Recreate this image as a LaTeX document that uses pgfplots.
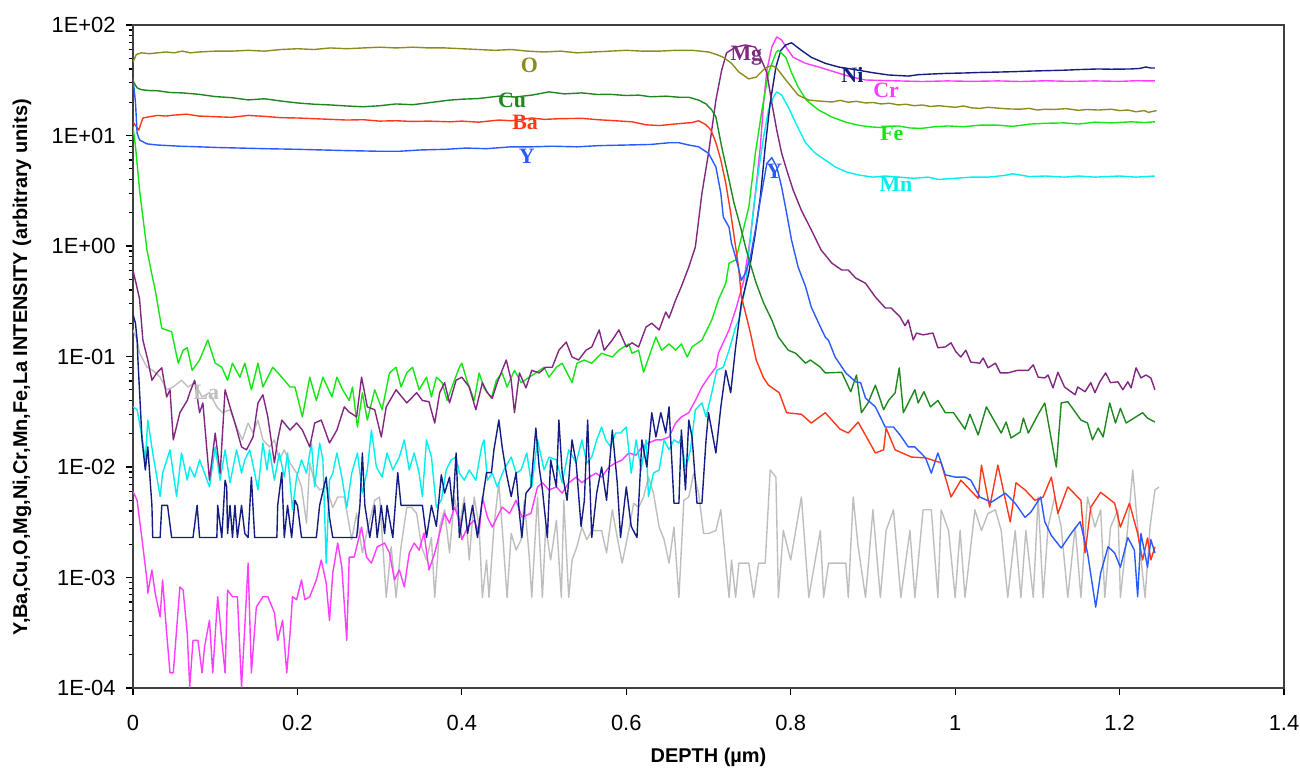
\documentclass[border=0pt]{standalone}
\usepackage{fontspec}
\setmainfont{Liberation Sans}
\newfontfamily\lserif{Liberation Serif}
\usepackage{pgfplots}
\pgfplotsset{compat=1.18}
\definecolor{cO}{RGB}{140,140,30}
\definecolor{cCu}{RGB}{30,135,30}
\definecolor{cBa}{RGB}{255,55,25}
\definecolor{cY}{RGB}{40,90,255}
\definecolor{cMg}{RGB}{128,40,128}
\definecolor{cFe}{RGB}{20,230,20}
\definecolor{cCr}{RGB}{255,60,255}
\definecolor{cNi}{RGB}{20,30,130}
\definecolor{cMn}{RGB}{0,238,238}
\definecolor{cLa}{RGB}{190,190,190}
\begin{document}
\begin{tikzpicture}
\begin{axis}[name=ax,
  scale only axis, width=575.5bp, height=331.5bp,
  ymode=log, xmin=0, xmax=1.4, ymin=1e-4, ymax=100,
  xtick={0,0.2,0.4,0.6,0.8,1,1.2,1.4},
  ytick={1e-4,1e-3,1e-2,1e-1,1,10,100},
  yticklabels={1E-04,1E-03,1E-02,1E-01,1E+00,1E+01,1E+02},
  /pgf/number format/assume math mode=true,
  tick align=outside, tick pos=left,
  major tick length=3.5bp, minor tick length=2.2bp,
  every tick/.style={black, line width=0.6bp},
  axis line style={line width=0.8bp, black!75},
  ticklabel style={font=\fontsize{11}{12}\selectfont},
  yticklabel style={inner sep=0pt, anchor=east, xshift=-5bp},
  xticklabel style={inner sep=0pt, anchor=north, yshift=-10bp},
  xlabel={\bfseries DEPTH (µm)},
  ylabel={\bfseries Y,Ba,Cu,O,Mg,Ni,Cr,Mn,Fe,La INTENSITY (arbitrary units)},
  label style={font=\fontsize{10.5}{12}\selectfont},
  every axis x label/.style={at={([yshift=-34.5bp]axis description cs:0.5,0)}, anchor=center},
  every axis y label/.style={at={([xshift=-55.5bp]axis description cs:0,0.484)}, anchor=center, rotate=90},
  every axis plot/.append style={line width=0.7bp, line join=round, no markers},
  clip=true,
]
% La
\addplot[cLa] coordinates {(0,0.174)(0.005,0.141)(0.008,0.107)(0.017,0.080)(0.024,0.075)(0.033,0.065)(0.041,0.050)(0.049,0.053)(0.059,0.061)(0.067,0.053)(0.075,0.058)(0.084,0.043)(0.093,0.047)(0.102,0.035)(0.109,0.031)(0.118,0.033)(0.126,0.023)(0.133,0.0176)(0.140,0.025)(0.146,0.0203)(0.152,0.0266)(0.158,0.0176)(0.166,0.0152)(0.172,0.0176)(0.178,0.0116)(0.184,0.0143)(0.191,0.0109)(0.199,0.0088)(0.205,0.0066)(0.211,0.0031)(0.215,0.0109)(0.221,0.0072)(0.227,0.0062)(0.235,0.0066)(0.243,0.0043)(0.249,0.00535)(0.257,0.00535)(0.266,0.0022)(0.272,0.0038)(0.279,0.00167)(0.285,0.00266)(0.294,0.0050)(0.300,0.00535)(0.308,0.00066)(0.314,0.0019)(0.320,0.00066)(0.326,0.0019)(0.333,0.0043)(0.339,0.0043)(0.345,0.0038)(0.351,0.0019)(0.357,0.00144)(0.363,0.0023)(0.367,0.00066)(0.373,0.00286)(0.379,0.0041)(0.385,0.00167)(0.391,0.00535)(0.397,0.00286)(0.403,0.00535)(0.409,0.00144)(0.415,0.00535)(0.421,0.00286)(0.425,0.00066)(0.430,0.00144)(0.433,0.00066)(0.439,0.00286)(0.445,0.0072)(0.449,0.00286)(0.455,0.00066)(0.460,0.0025)(0.466,0.00177)(0.472,0.0022)(0.476,0.0050)(0.482,0.00153)(0.485,0.00066)(0.492,0.00535)(0.498,0.00066)(0.502,0.00286)(0.508,0.00144)(0.515,0.0033)(0.521,0.00066)(0.524,0.0050)(0.530,0.00066)(0.534,0.00144)(0.540,0.0019)(0.546,0.00286)(0.552,0.0022)(0.558,0.00266)(0.564,0.00266)(0.570,0.00266)(0.576,0.00167)(0.583,0.0041)(0.589,0.0023)(0.595,0.00135)(0.603,0.00266)(0.609,0.0047)(0.615,0.0043)(0.621,0.00535)(0.627,0.0081)(0.633,0.0058)(0.640,0.00286)(0.646,0.0022)(0.652,0.00135)(0.658,0.00286)(0.664,0.00066)(0.670,0.0050)(0.676,0.00535)(0.682,0.0088)(0.688,0.0058)(0.694,0.0025)(0.700,0.0025)(0.709,0.00266)(0.715,0.0041)(0.721,0.00135)(0.725,0.00066)(0.728,0.00144)(0.733,0.00066)(0.737,0.00135)(0.749,0.00135)(0.755,0.00066)(0.761,0.00135)(0.769,0.00135)(0.775,0.0094)(0.782,0.0081)(0.785,0.00066)(0.791,0.00266)(0.800,0.00144)(0.813,0.00535)(0.822,0.00066)(0.836,0.00266)(0.840,0.00066)(0.846,0.00135)(0.867,0.00135)(0.870,0.00066)(0.876,0.00535)(0.882,0.0019)(0.891,0.00066)(0.900,0.0041)(0.909,0.00066)(0.916,0.00266)(0.925,0.0041)(0.934,0.00066)(0.945,0.00266)(0.951,0.00066)(0.961,0.0041)(0.971,0.0041)(0.979,0.00066)(0.983,0.0041)(0.992,0.00266)(1.000,0.00066)(1.006,0.00266)(1.012,0.00066)(1.024,0.0041)(1.032,0.00266)(1.040,0.0038)(1.049,0.0041)(1.056,0.00266)(1.064,0.00066)(1.073,0.00266)(1.080,0.00066)(1.086,0.00266)(1.095,0.00066)(1.101,0.00535)(1.107,0.00066)(1.113,0.00286)(1.121,0.00535)(1.129,0.00286)(1.137,0.00066)(1.146,0.00286)(1.153,0.00066)(1.161,0.00535)(1.170,0.00286)(1.177,0.0041)(1.182,0.00066)(1.189,0.00286)(1.198,0.0041)(1.201,0.00066)(1.210,0.00286)(1.216,0.0094)(1.222,0.00286)(1.231,0.00066)(1.237,0.00286)(1.243,0.0062)(1.248,0.0066)};
% Cr
\addplot[cCr] coordinates {(0,0.006)(0.005,0.0050)(0.011,0.0022)(0.017,0.00095)(0.018,0.00072)(0.023,0.00117)(0.027,0.00072)(0.033,0.00044)(0.036,0.00095)(0.041,0.00031)(0.045,0.000137)(0.049,0.000137)(0.053,0.000335)(0.057,0.00082)(0.061,0.00077)(0.066,0.00031)(0.069,0.000102)(0.073,0.00027)(0.079,0.00027)(0.084,0.000137)(0.087,0.000235)(0.093,0.00041)(0.097,0.000137)(0.103,0.00067)(0.108,0.00027)(0.112,0.000137)(0.115,0.00077)(0.121,0.00067)(0.127,0.00067)(0.132,0.000102)(0.136,0.00036)(0.140,0.00135)(0.144,0.000137)(0.150,0.00054)(0.158,0.00067)(0.164,0.00067)(0.172,0.00048)(0.176,0.00027)(0.182,0.00041)(0.187,0.000137)(0.191,0.00031)(0.194,0.00067)(0.199,0.00063)(0.205,0.00095)(0.209,0.00063)(0.215,0.00067)(0.223,0.00095)(0.229,0.00144)(0.235,0.00089)(0.239,0.00041)(0.243,0.0011)(0.249,0.00205)(0.254,0.00124)(0.260,0.00027)(0.263,0.00153)(0.269,0.00153)(0.278,0.00286)(0.284,0.00153)(0.290,0.00135)(0.297,0.00189)(0.306,0.00205)(0.312,0.00167)(0.318,0.00095)(0.324,0.00117)(0.330,0.00082)(0.336,0.00167)(0.342,0.00205)(0.348,0.00177)(0.354,0.00253)(0.360,0.00117)(0.367,0.00167)(0.373,0.00253)(0.379,0.0038)(0.385,0.0031)(0.391,0.00434)(0.397,0.0033)(0.400,0.0022)(0.407,0.00286)(0.415,0.0033)(0.421,0.00253)(0.425,0.00535)(0.431,0.00353)(0.437,0.00286)(0.443,0.00353)(0.449,0.00434)(0.458,0.0038)(0.466,0.0050)(0.473,0.00353)(0.484,0.0038)(0.492,0.0066)(0.498,0.0072)(0.506,0.0062)(0.515,0.0066)(0.522,0.0058)(0.530,0.0072)(0.539,0.0081)(0.546,0.0072)(0.555,0.0081)(0.563,0.0088)(0.570,0.0081)(0.579,0.010)(0.587,0.0109)(0.595,0.0116)(0.603,0.0134)(0.612,0.0128)(0.619,0.0152)(0.627,0.0165)(0.636,0.0176)(0.643,0.0176)(0.652,0.0187)(0.660,0.025)(0.667,0.0284)(0.676,0.031)(0.684,0.040)(0.692,0.053)(0.700,0.065)(0.709,0.080)(0.712,0.107)(0.725,0.174)(0.734,0.28)(0.743,0.49)(0.751,1.2)(0.757,3.0)(0.763,7.9)(0.767,19.7)(0.771,39)(0.777,63)(0.783,78)(0.789,73)(0.795,62)(0.803,51)(0.818,45)(0.834,41.7)(0.854,37.5)(0.874,33.8)(0.891,31.8)(0.91,31.5)(0.931,31.2)(0.96,30.8)(0.99,31.2)(1.02,30.9)(1.052,31.2)(1.08,30.8)(1.11,31.3)(1.14,30.9)(1.17,31.2)(1.2,30.9)(1.22,31.3)(1.243,31.2)};
% Mn
\addplot[cMn] coordinates {(0,0.035)(0.005,0.033)(0.011,0.0187)(0.015,0.0116)(0.018,0.0266)(0.024,0.0134)(0.033,0.0054)(0.036,0.0088)(0.045,0.0143)(0.053,0.0054)(0.059,0.0134)(0.066,0.0076)(0.069,0.0100)(0.075,0.0081)(0.081,0.0116)(0.087,0.0088)(0.093,0.0066)(0.100,0.0152)(0.106,0.0076)(0.112,0.0143)(0.118,0.0072)(0.126,0.0143)(0.132,0.0088)(0.136,0.0116)(0.142,0.0143)(0.148,0.0088)(0.152,0.0062)(0.158,0.0165)(0.163,0.0094)(0.166,0.0143)(0.172,0.0076)(0.178,0.0134)(0.184,0.0081)(0.188,0.0134)(0.194,0.0041)(0.199,0.0081)(0.205,0.0116)(0.211,0.0088)(0.217,0.0165)(0.221,0.0066)(0.227,0.0165)(0.231,0.0116)(0.235,0.00135)(0.239,0.0076)(0.243,0.0088)(0.248,0.0134)(0.254,0.0081)(0.260,0.0043)(0.266,0.0088)(0.273,0.0134)(0.279,0.0058)(0.285,0.0094)(0.290,0.0216)(0.296,0.0100)(0.303,0.0081)(0.309,0.0134)(0.316,0.0094)(0.324,0.0123)(0.330,0.0176)(0.336,0.0094)(0.342,0.0134)(0.348,0.0088)(0.352,0.0054)(0.357,0.0176)(0.363,0.0123)(0.369,0.0043)(0.375,0.005)(0.381,0.0094)(0.387,0.0116)(0.393,0.0123)(0.397,0.0088)(0.403,0.0076)(0.409,0.0094)(0.417,0.0076)(0.424,0.0152)(0.427,0.0176)(0.431,0.0076)(0.437,0.0088)(0.443,0.0066)(0.451,0.0094)(0.460,0.0123)(0.466,0.0088)(0.472,0.0094)(0.479,0.0134)(0.485,0.0066)(0.492,0.0176)(0.500,0.0094)(0.506,0.0123)(0.515,0.0116)(0.522,0.0072)(0.530,0.0143)(0.539,0.0109)(0.546,0.0176)(0.552,0.0109)(0.558,0.0123)(0.564,0.0176)(0.570,0.023)(0.575,0.0176)(0.581,0.0152)(0.587,0.0203)(0.593,0.0203)(0.600,0.023)(0.606,0.0088)(0.612,0.0176)(0.618,0.0094)(0.624,0.0176)(0.627,0.0054)(0.633,0.0088)(0.640,0.0094)(0.646,0.0176)(0.652,0.0143)(0.658,0.0176)(0.664,0.0165)(0.667,0.0187)(0.672,0.0094)(0.678,0.0143)(0.684,0.033)(0.692,0.038)(0.697,0.0284)(0.704,0.047)(0.710,0.075)(0.718,0.080)(0.725,0.114)(0.733,0.185)(0.737,0.214)(0.745,0.43)(0.749,0.86)(0.755,2.25)(0.761,4.9)(0.767,9.7)(0.773,17)(0.779,22.3)(0.783,24.8)(0.789,23.2)(0.797,18.1)(0.806,13.0)(0.818,8.6)(0.830,6.9)(0.842,6.0)(0.854,5.2)(0.867,4.7)(0.882,4.4)(0.90,4.2)(0.915,4.3)(0.931,4.2)(0.95,4.1)(0.967,4.2)(0.98,4.0)(1.0,4.1)(1.02,4.2)(1.04,4.2)(1.06,4.35)(1.07,4.5)(1.09,4.25)(1.11,4.3)(1.133,4.2)(1.15,4.3)(1.17,4.2)(1.2,4.3)(1.22,4.2)(1.243,4.3)};
% Ni
\addplot[cNi] coordinates {(0,0.24)(0.003,0.2)(0.005,0.141)(0.006,0.093)(0.011,0.0176)(0.015,0.0094)(0.018,0.0152)(0.023,0.0045)(0.024,0.0023)(0.033,0.0023)(0.035,0.0045)(0.042,0.0045)(0.047,0.0023)(0.073,0.0023)(0.078,0.0045)(0.081,0.0023)(0.102,0.0023)(0.103,0.0045)(0.108,0.0023)(0.112,0.0076)(0.114,0.0066)(0.115,0.0025)(0.118,0.0045)(0.121,0.0023)(0.124,0.0045)(0.127,0.0023)(0.132,0.0045)(0.136,0.0025)(0.140,0.0023)(0.144,0.0081)(0.148,0.0023)(0.175,0.0023)(0.176,0.0045)(0.181,0.0089)(0.184,0.0023)(0.188,0.0045)(0.193,0.0023)(0.197,0.005)(0.200,0.0045)(0.205,0.0023)(0.223,0.0023)(0.227,0.0045)(0.235,0.0081)(0.239,0.0035)(0.243,0.0023)(0.272,0.0023)(0.276,0.0045)(0.279,0.0134)(0.282,0.0045)(0.288,0.0023)(0.294,0.0045)(0.297,0.0023)(0.302,0.0045)(0.306,0.0025)(0.309,0.0045)(0.316,0.0023)(0.322,0.0089)(0.326,0.0045)(0.334,0.0045)(0.352,0.0045)(0.357,0.0023)(0.363,0.0045)(0.369,0.0029)(0.375,0.0085)(0.379,0.0058)(0.385,0.0081)(0.389,0.0041)(0.393,0.0134)(0.397,0.0023)(0.403,0.0047)(0.407,0.0025)(0.413,0.0045)(0.419,0.0023)(0.424,0.0045)(0.430,0.0089)(0.436,0.0089)(0.439,0.0143)(0.445,0.0266)(0.449,0.0152)(0.454,0.0089)(0.460,0.0054)(0.466,0.0089)(0.470,0.0038)(0.473,0.0023)(0.478,0.0058)(0.484,0.0066)(0.490,0.0225)(0.494,0.0100)(0.498,0.0062)(0.504,0.0023)(0.508,0.0116)(0.515,0.0066)(0.518,0.0266)(0.522,0.0089)(0.528,0.005)(0.534,0.0176)(0.539,0.0109)(0.545,0.0029)(0.549,0.005)(0.553,0.0266)(0.558,0.0023)(0.564,0.0058)(0.570,0.0100)(0.576,0.005)(0.583,0.0216)(0.589,0.0072)(0.593,0.0023)(0.600,0.0066)(0.606,0.0029)(0.613,0.0023)(0.619,0.0176)(0.625,0.0100)(0.631,0.031)(0.636,0.0187)(0.642,0.031)(0.648,0.0203)(0.652,0.035)(0.658,0.0047)(0.664,0.0047)(0.667,0.0216)(0.672,0.0062)(0.676,0.0266)(0.680,0.0187)(0.686,0.0047)(0.692,0.0047)(0.697,0.0176)(0.700,0.031)(0.709,0.0134)(0.715,0.035)(0.721,0.075)(0.727,0.047)(0.733,0.122)(0.740,0.305)(0.749,0.57)(0.757,1.31)(0.763,2.77)(0.769,7.9)(0.775,19.7)(0.782,41.7)(0.788,59)(0.794,66)(0.801,69)(0.813,59)(0.825,51)(0.842,45)(0.858,41.7)(0.882,39)(0.90,37)(0.919,35.3)(0.943,34.5)(0.955,35.5)(0.971,36)(0.99,36.5)(1.012,36.8)(1.03,37.2)(1.052,37.5)(1.07,37.8)(1.092,38.3)(1.11,38.6)(1.133,39)(1.15,39.5)(1.174,40)(1.19,39.8)(1.214,40)(1.225,40.5)(1.232,41.7)(1.238,40.8)(1.243,40.8)};
% Fe
\addplot[cFe] coordinates {(0,12)(0.003,8)(0.008,3.2)(0.017,0.92)(0.023,0.55)(0.027,0.40)(0.035,0.18)(0.041,0.174)(0.047,0.167)(0.055,0.087)(0.061,0.114)(0.066,0.12)(0.072,0.075)(0.081,0.093)(0.091,0.141)(0.100,0.087)(0.108,0.080)(0.115,0.061)(0.121,0.087)(0.130,0.065)(0.136,0.087)(0.144,0.050)(0.152,0.087)(0.158,0.053)(0.170,0.080)(0.181,0.065)(0.191,0.053)(0.197,0.053)(0.206,0.0284)(0.215,0.065)(0.223,0.040)(0.231,0.065)(0.242,0.043)(0.248,0.065)(0.255,0.050)(0.263,0.040)(0.267,0.053)(0.273,0.023)(0.279,0.047)(0.285,0.0266)(0.294,0.050)(0.303,0.033)(0.312,0.071)(0.320,0.080)(0.326,0.053)(0.333,0.071)(0.340,0.080)(0.348,0.050)(0.357,0.065)(0.363,0.043)(0.369,0.065)(0.376,0.058)(0.382,0.040)(0.391,0.061)(0.397,0.080)(0.400,0.087)(0.406,0.061)(0.415,0.040)(0.421,0.071)(0.427,0.052)(0.436,0.042)(0.442,0.061)(0.449,0.071)(0.455,0.053)(0.464,0.075)(0.472,0.058)(0.482,0.065)(0.490,0.071)(0.500,0.080)(0.506,0.065)(0.515,0.080)(0.522,0.087)(0.528,0.071)(0.534,0.058)(0.540,0.087)(0.549,0.093)(0.558,0.087)(0.570,0.107)(0.583,0.099)(0.591,0.114)(0.603,0.13)(0.607,0.107)(0.615,0.114)(0.621,0.072)(0.636,0.15)(0.643,0.114)(0.652,0.13)(0.660,0.114)(0.667,0.13)(0.674,0.099)(0.680,0.122)(0.692,0.141)(0.704,0.214)(0.712,0.325)(0.721,0.46)(0.725,0.70)(0.733,0.747)(0.740,1.2)(0.749,2.25)(0.757,6.9)(0.765,17)(0.773,37)(0.782,56)(0.785,59)(0.794,51)(0.801,37)(0.809,27.5)(0.819,20.9)(0.834,17)(0.850,14.7)(0.867,13.2)(0.882,12.4)(0.895,12.0)(0.910,11.8)(0.92,12.1)(0.931,12.2)(0.945,11.7)(0.959,11.6)(0.975,12.0)(0.992,12.2)(1.01,12.0)(1.03,12.4)(1.052,12.4)(1.07,12.1)(1.092,12.7)(1.11,12.9)(1.133,13.0)(1.15,12.7)(1.17,13.2)(1.19,13.0)(1.214,13.3)(1.23,13.1)(1.243,13.3)};
% Mg
\addplot[cMg] coordinates {(0,0.6)(0.004,0.45)(0.008,0.33)(0.012,0.141)(0.018,0.093)(0.023,0.061)(0.029,0.071)(0.035,0.079)(0.041,0.043)(0.045,0.050)(0.049,0.0176)(0.057,0.031)(0.066,0.040)(0.069,0.047)(0.075,0.061)(0.081,0.031)(0.085,0.038)(0.093,0.0076)(0.100,0.0203)(0.106,0.0088)(0.112,0.050)(0.118,0.035)(0.124,0.025)(0.132,0.0152)(0.138,0.0143)(0.146,0.0187)(0.152,0.038)(0.158,0.045)(0.164,0.0284)(0.172,0.0109)(0.176,0.0176)(0.181,0.0266)(0.191,0.0216)(0.199,0.025)(0.206,0.0216)(0.215,0.0152)(0.221,0.025)(0.229,0.0266)(0.239,0.0165)(0.248,0.0216)(0.257,0.035)(0.263,0.0314)(0.272,0.0284)(0.278,0.065)(0.285,0.035)(0.294,0.033)(0.302,0.0187)(0.308,0.035)(0.320,0.050)(0.333,0.038)(0.345,0.047)(0.352,0.040)(0.360,0.039)(0.367,0.025)(0.373,0.047)(0.379,0.058)(0.385,0.038)(0.393,0.061)(0.400,0.065)(0.409,0.053)(0.417,0.033)(0.425,0.058)(0.431,0.047)(0.437,0.042)(0.443,0.058)(0.454,0.093)(0.460,0.061)(0.464,0.031)(0.470,0.071)(0.478,0.052)(0.485,0.075)(0.494,0.071)(0.502,0.080)(0.510,0.080)(0.518,0.114)(0.527,0.135)(0.534,0.099)(0.542,0.093)(0.551,0.114)(0.558,0.122)(0.567,0.174)(0.573,0.114)(0.583,0.141)(0.591,0.174)(0.600,0.122)(0.607,0.133)(0.615,0.122)(0.624,0.185)(0.631,0.20)(0.640,0.174)(0.648,0.253)(0.652,0.223)(0.660,0.325)(0.667,0.43)(0.676,0.645)(0.684,0.98)(0.692,3.0)(0.700,6.9)(0.709,20.9)(0.716,39)(0.722,56)(0.733,63)(0.745,66)(0.757,63)(0.763,51)(0.771,37)(0.777,19.7)(0.783,11.2)(0.789,6.9)(0.795,4.9)(0.803,3.2)(0.813,2.1)(0.825,1.40)(0.837,0.92)(0.850,0.70)(0.862,0.606)(0.870,0.606)(0.879,0.513)(0.891,0.46)(0.903,0.345)(0.915,0.275)(0.922,0.275)(0.933,0.228)(0.939,0.19)(0.943,0.214)(0.949,0.141)(0.953,0.163)(0.961,0.157)(0.973,0.163)(0.979,0.12)(0.988,0.122)(0.995,0.133)(1.001,0.11)(1.007,0.099)(1.013,0.114)(1.019,0.089)(1.030,0.087)(1.034,0.097)(1.040,0.079)(1.049,0.087)(1.055,0.071)(1.064,0.071)(1.076,0.075)(1.089,0.075)(1.095,0.084)(1.101,0.065)(1.109,0.064)(1.113,0.068)(1.119,0.052)(1.125,0.072)(1.133,0.053)(1.146,0.045)(1.149,0.053)(1.158,0.048)(1.165,0.058)(1.170,0.047)(1.176,0.059)(1.183,0.071)(1.189,0.058)(1.198,0.059)(1.204,0.050)(1.210,0.059)(1.214,0.052)(1.220,0.079)(1.226,0.064)(1.232,0.068)(1.238,0.064)(1.243,0.050)};
% Cu
\addplot[cCu] coordinates {(0,31)(0.005,27)(0.01,26)(0.02,25.5)(0.03,25.4)(0.045,24.5)(0.06,24.3)(0.08,23.6)(0.1,22.5)(0.12,22.0)(0.14,21.0)(0.16,21.5)(0.18,20.5)(0.2,19.7)(0.22,19.2)(0.24,18.9)(0.26,18.5)(0.28,18.2)(0.30,18.6)(0.32,19.3)(0.34,19.0)(0.36,19.8)(0.385,20.9)(0.40,21.3)(0.42,21.6)(0.445,22.7)(0.465,22.3)(0.485,23.2)(0.506,24.8)(0.525,23.8)(0.546,24.3)(0.565,23.5)(0.58,23.6)(0.6,23.0)(0.615,23.2)(0.63,22.4)(0.648,22.7)(0.664,22.2)(0.676,22.2)(0.688,20.9)(0.697,19.3)(0.704,17.0)(0.709,14.7)(0.716,7.9)(0.725,3.95)(0.731,2.45)(0.739,1.48)(0.746,0.92)(0.752,0.645)(0.758,0.46)(0.767,0.305)(0.777,0.214)(0.785,0.15)(0.797,0.114)(0.806,0.107)(0.818,0.087)(0.824,0.093)(0.836,0.080)(0.842,0.071)(0.862,0.072)(0.873,0.048)(0.880,0.068)(0.886,0.031)(0.894,0.038)(0.903,0.055)(0.913,0.033)(0.919,0.040)(0.927,0.047)(0.932,0.079)(0.937,0.031)(0.951,0.050)(0.955,0.038)(0.962,0.048)(0.970,0.035)(0.979,0.040)(0.988,0.031)(0.998,0.031)(1.012,0.022)(1.018,0.030)(1.028,0.0195)(1.038,0.035)(1.056,0.0203)(1.062,0.0255)(1.068,0.0183)(1.079,0.0207)(1.083,0.0277)(1.089,0.0203)(1.101,0.030)(1.109,0.038)(1.123,0.0100)(1.129,0.038)(1.137,0.039)(1.153,0.0266)(1.161,0.025)(1.167,0.0176)(1.174,0.0225)(1.180,0.0187)(1.188,0.038)(1.195,0.025)(1.201,0.034)(1.208,0.025)(1.228,0.031)(1.234,0.0277)(1.243,0.0255)};
% Ba
\addplot[cBa] coordinates {(0,13.3)(0.004,12.0)(0.007,11.2)(0.012,14.4)(0.02,14.8)(0.03,15.2)(0.04,15.0)(0.05,15.3)(0.065,15.6)(0.08,15.0)(0.1,14.8)(0.12,14.6)(0.14,15.2)(0.16,14.9)(0.18,14.5)(0.2,14.4)(0.22,14.2)(0.24,14.0)(0.26,13.8)(0.28,13.9)(0.3,13.5)(0.32,13.6)(0.34,13.4)(0.36,13.5)(0.385,13.3)(0.40,13.5)(0.42,13.2)(0.445,13.8)(0.46,13.6)(0.485,14.4)(0.5,14.0)(0.52,14.2)(0.546,14.3)(0.565,13.9)(0.58,13.7)(0.607,13.3)(0.624,12.5)(0.64,12.3)(0.664,12.8)(0.68,13.1)(0.688,13.6)(0.697,12.5)(0.703,11.2)(0.709,8.6)(0.715,6.0)(0.721,3.7)(0.727,1.99)(0.733,0.98)(0.737,0.606)(0.740,0.345)(0.745,0.248)(0.751,0.163)(0.758,0.093)(0.767,0.064)(0.773,0.055)(0.786,0.047)(0.795,0.031)(0.813,0.030)(0.825,0.025)(0.842,0.031)(0.860,0.022)(0.870,0.0203)(0.882,0.0255)(0.903,0.0134)(0.913,0.0143)(0.916,0.0225)(0.927,0.0143)(0.947,0.0123)(0.964,0.0121)(0.983,0.0109)(0.995,0.00535)(1.007,0.0076)(1.028,0.0052)(1.032,0.0104)(1.042,0.00434)(1.052,0.0104)(1.067,0.00318)(1.074,0.0072)(1.085,0.0062)(1.097,0.0050)(1.107,0.00535)(1.117,0.0081)(1.125,0.0038)(1.137,0.0066)(1.153,0.0050)(1.158,0.00167)(1.165,0.00434)(1.177,0.0059)(1.194,0.0047)(1.201,0.00286)(1.212,0.0047)(1.222,0.0025)(1.228,0.00144)(1.234,0.00228)(1.238,0.00144)(1.243,0.00189)};
% Y
\addplot[cY] coordinates {(0,33)(0.003,20)(0.005,10.5)(0.008,9.1)(0.017,8.4)(0.03,8.2)(0.057,8.0)(0.08,7.9)(0.1,7.8)(0.13,7.7)(0.16,7.6)(0.2,7.5)(0.23,7.4)(0.26,7.3)(0.3,7.2)(0.324,7.2)(0.35,7.4)(0.38,7.5)(0.405,7.7)(0.43,7.6)(0.46,7.9)(0.485,7.9)(0.51,8.0)(0.54,7.9)(0.567,8.1)(0.6,8.2)(0.63,8.3)(0.652,8.6)(0.664,8.6)(0.676,8.2)(0.688,7.9)(0.700,6.9)(0.709,5.2)(0.715,3.0)(0.718,1.83)(0.725,1.48)(0.728,1.06)(0.734,0.747)(0.740,0.49)(0.745,0.57)(0.751,0.795)(0.757,1.40)(0.763,2.6)(0.771,5.6)(0.777,6.3)(0.783,5.2)(0.789,3.4)(0.795,1.99)(0.801,1.13)(0.809,0.645)(0.818,0.43)(0.825,0.28)(0.834,0.20)(0.842,0.15)(0.846,0.14)(0.854,0.099)(0.867,0.071)(0.879,0.059)(0.885,0.058)(0.891,0.042)(0.903,0.035)(0.915,0.023)(0.925,0.023)(0.933,0.0195)(0.943,0.0152)(0.951,0.0152)(0.964,0.0121)(0.971,0.0088)(0.979,0.0134)(0.988,0.0085)(1.000,0.0081)(1.012,0.0081)(1.019,0.0076)(1.030,0.00535)(1.044,0.0048)(1.061,0.0058)(1.073,0.0047)(1.085,0.0035)(1.092,0.0039)(1.104,0.00535)(1.109,0.0032)(1.117,0.0024)(1.129,0.00185)(1.141,0.0025)(1.152,0.0032)(1.161,0.00167)(1.171,0.00054)(1.177,0.0011)(1.186,0.0019)(1.194,0.00167)(1.201,0.00124)(1.210,0.0023)(1.218,0.00177)(1.222,0.00067)(1.226,0.0025)(1.234,0.00124)(1.238,0.0022)(1.243,0.00167)};
% O
\addplot[cO] coordinates {(0,46)(0.004,54)(0.01,56)(0.02,55)(0.03,56)(0.04,57)(0.05,56)(0.06,58)(0.07,56)(0.08,57)(0.1,58)(0.12,58)(0.14,59)(0.16,58)(0.18,60)(0.2,61)(0.22,60)(0.24,62)(0.26,61)(0.28,62)(0.3,63)(0.32,62)(0.34,63)(0.36,62)(0.38,62)(0.4,61)(0.42,60)(0.44,59)(0.46,60)(0.48,58)(0.5,57)(0.52,58)(0.54,56)(0.56,57)(0.58,58)(0.6,59)(0.62,58)(0.64,58)(0.66,59)(0.68,59)(0.69,58)(0.70,57)(0.71,54)(0.718,51)(0.728,45)(0.737,37.5)(0.749,32.5)(0.758,33.8)(0.769,40.8)(0.777,43)(0.783,40.8)(0.794,31.8)(0.809,23.2)(0.822,20.9)(0.835,20.5)(0.85,20.1)(0.86,20.8)(0.87,20.0)(0.88,20.4)(0.891,19.7)(0.9,19.9)(0.91,19.3)(0.92,19.6)(0.931,18.9)(0.94,19.2)(0.95,18.6)(0.96,18.9)(0.97,18.3)(0.98,18.6)(1.0,18.0)(1.01,18.5)(1.02,17.8)(1.03,17.6)(1.04,18.0)(1.052,17.7)(1.065,17.4)(1.08,17.3)(1.09,17.6)(1.1,17.0)(1.11,17.3)(1.12,17.2)(1.135,17.5)(1.15,16.9)(1.16,17.2)(1.174,17.0)(1.19,17.3)(1.2,16.8)(1.21,17.0)(1.22,16.4)(1.23,16.8)(1.235,16.2)(1.245,16.8)};
% series labels
\begin{scope}[every node/.style={font=\lserif\bfseries\fontsize{11}{13}\selectfont, inner sep=0pt}]
\node[text=cO] at (axis cs:0.482,43.4) {O};
\node[text=cMg] at (axis cs:0.746,53) {Mg};
\node[text=cNi] at (axis cs:0.875,35.7) {Ni};
\node[text=cCr] at (axis cs:0.916,25.8) {Cr};
\node[text=cCu] at (axis cs:0.461,20.6) {Cu};
\node[text=cBa] at (axis cs:0.477,13.1) {Ba};
\node[text=cFe] at (axis cs:0.923,10.4) {Fe};
\node[text=cY] at (axis cs:0.479,6.5) {Y};
\node[text=cY] at (axis cs:0.780,4.72) {Y};
\node[text=cMn] at (axis cs:0.928,3.64) {Mn};
\node[text=cLa] at (axis cs:0.089,0.047) {La};
\end{scope}
\end{axis}
\pgfresetboundingbox
\path[use as bounding box] ([shift={(-66.5bp,-40.5bp)}]ax.south west) rectangle ([shift={(8bp,12.5bp)}]ax.north east);
\end{tikzpicture}
\end{document}
